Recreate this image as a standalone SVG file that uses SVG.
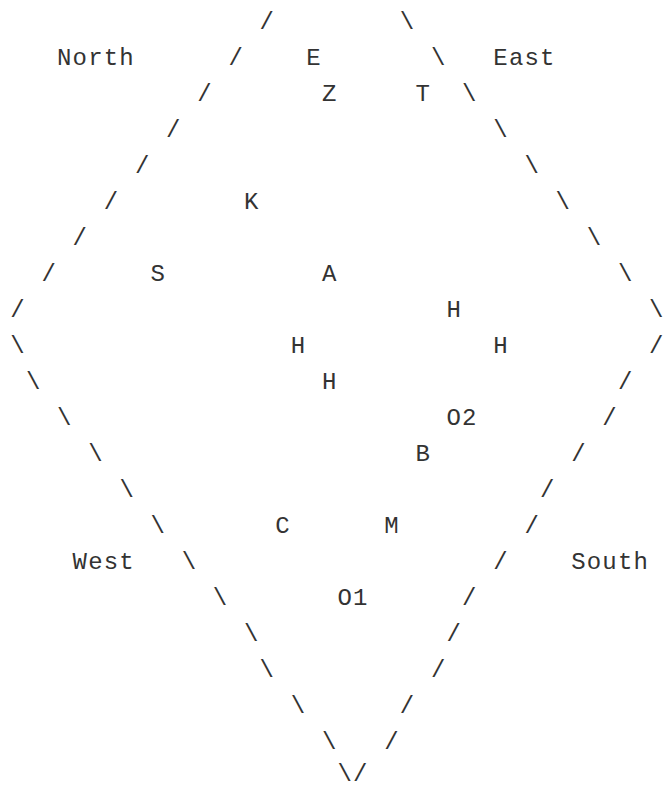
<svg xmlns="http://www.w3.org/2000/svg" width="664" height="789" viewBox="0 0 664 789">
<style>
text{font-family:"Liberation Mono","Courier New",monospace;font-size:24px;letter-spacing:1.18px;fill:#333;white-space:pre}
</style>
<rect width="664" height="789" fill="#fff"/>
<g id="connectors">
<text x="259.6" y="29">/</text><text x="399.8" y="29">\</text>
<text x="228.4" y="65">/</text><text x="431.0" y="65">\</text>
<text x="197.3" y="101">/</text><text x="462.1" y="101">\</text>
<text x="166.1" y="137">/</text><text x="493.3" y="137">\</text>
<text x="134.9" y="173">/</text><text x="524.4" y="173">\</text>
<text x="103.8" y="209">/</text><text x="555.6" y="209">\</text>
<text x="72.6" y="245">/</text><text x="586.8" y="245">\</text>
<text x="41.5" y="281">/</text><text x="617.9" y="281">\</text>
<text x="10.3" y="317">/</text><text x="649.1" y="317">\</text>
<text x="10.3" y="353">\</text><text x="649.1" y="353">/</text>
<text x="25.9" y="389">\</text><text x="617.9" y="389">/</text>
<text x="57.0" y="425">\</text><text x="602.3" y="425">/</text>
<text x="88.2" y="461">\</text><text x="571.2" y="461">/</text>
<text x="119.4" y="497">\</text><text x="540.0" y="497">/</text>
<text x="150.5" y="533">\</text><text x="524.4" y="533">/</text>
<text x="181.7" y="569">\</text><text x="493.3" y="569">/</text>
<text x="212.8" y="605">\</text><text x="462.1" y="605">/</text>
<text x="244.0" y="641">\</text><text x="446.5" y="641">/</text>
<text x="259.6" y="677">\</text><text x="431.0" y="677">/</text>
<text x="290.7" y="713">\</text><text x="399.8" y="713">/</text>
<text x="321.9" y="749">\</text><text x="384.2" y="749">/</text>
<text x="337.5" y="781">\</text><text x="353.1" y="781">/</text>
</g>
<g id="label-north"><text x="57.0" y="65">North</text></g>
<g id="label-east"><text x="493.3" y="65">East</text></g>
<g id="label-west"><text x="72.6" y="569">West</text></g>
<g id="label-south"><text x="571.2" y="569">South</text></g>
<g id="node-E"><text x="306.3" y="65">E</text></g>
<g id="node-Z"><text x="321.9" y="101">Z</text></g>
<g id="node-T"><text x="415.4" y="101">T</text></g>
<g id="node-K"><text x="244.0" y="209">K</text></g>
<g id="node-S"><text x="150.5" y="281">S</text></g>
<g id="node-A"><text x="321.9" y="281">A</text></g>
<g id="node-H1"><text x="446.5" y="317">H</text></g>
<g id="node-H2"><text x="290.7" y="353">H</text></g>
<g id="node-H3"><text x="493.3" y="353">H</text></g>
<g id="node-H4"><text x="321.9" y="389">H</text></g>
<g id="node-O2"><text x="446.5" y="425">O2</text></g>
<g id="node-B"><text x="415.4" y="461">B</text></g>
<g id="node-C"><text x="275.2" y="533">C</text></g>
<g id="node-M"><text x="384.2" y="533">M</text></g>
<g id="node-O1"><text x="337.5" y="605">O1</text></g>
</svg>
